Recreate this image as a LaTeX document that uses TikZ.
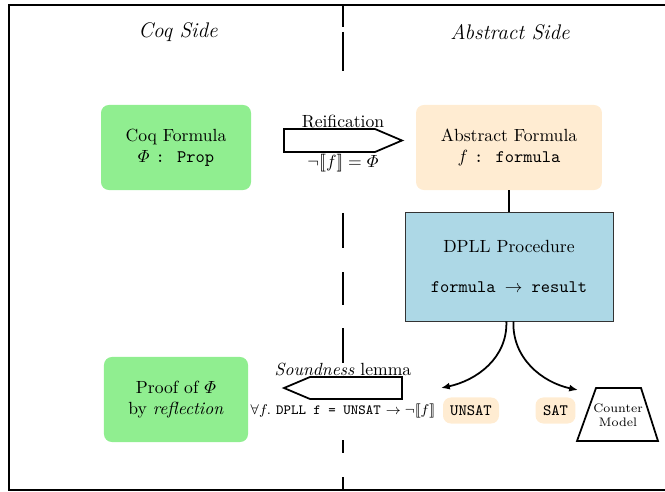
\documentclass[tikz,border=0pt]{standalone}
\usepackage{amsmath}
\usetikzlibrary{arrows.meta}
\definecolor{greenbox}{HTML}{90EE90}
\definecolor{orangebox}{HTML}{FFECD2}
\definecolor{bluebox}{HTML}{ADD8E6}
\newcommand{\semb}[1]{[\![#1]\!]}
\begin{document}
\begin{tikzpicture}[x=0.568pt,y=-0.568pt,
  rbox/.style={rounded corners=4.5pt, align=center, inner sep=0pt},
  gbox/.style={rbox, fill=greenbox},
  obox/.style={rbox, fill=orangebox},
  heavy/.style={line width=1pt},
  lab/.style={inner sep=1pt, align=center},
  tip/.style={-{Latex[length=5pt,width=4pt]}, line width=1pt}]
\useasboundingbox (0,0) rectangle (665,491);
% frame
\draw[heavy] (668,5) -- (9,5) -- (9,490) -- (668,490);
% dashed separator
\foreach \a/\b in {5/27,32/71,213/248,272/305,328/363,440/453,477/490}
  \draw[heavy] (343,\a) -- (343,\b);
% titles
\node[lab] (tcoq) at (178,32) {\large\itshape Coq Side};
\node[lab] (tabs) at (510,32) {\large\itshape Abstract Side};
% boxes
\node[gbox, minimum width=85.2pt, minimum height=48.3pt] (coq) at (176,147.5)
  {Coq Formula\\$\varPhi$ \texttt{: Prop}};
\node[obox, minimum width=105.6pt, minimum height=48.3pt] (abs) at (509,147.5)
  {Abstract Formula\\$f$ \texttt{: formula}};
\node[draw=black!80, line width=0.5pt, fill=bluebox, align=center, inner sep=0pt,
  minimum width=118.1pt, minimum height=61.9pt] (dpll) at (509,266.5)
  {DPLL Procedure\\[11pt]\texttt{formula $\rightarrow$ result}};
\node[gbox, minimum width=81.8pt, minimum height=48.3pt] (proof) at (176,399.5)
  {Proof of $\varPhi$\\by \textit{reflection}};
\node[obox, minimum width=31.8pt, minimum height=14.8pt] (unsat) at (471,410.5)
  {\small\texttt{UNSAT}};
\node[obox, minimum width=22.7pt, minimum height=14.8pt] (sat) at (555.5,410.5)
  {\small\texttt{SAT}};
% counter model trapezium
\draw[heavy, fill=white] (596,388) -- (641,388) -- (658,441) -- (577,441) -- cycle;
\node[lab, font=\scriptsize, align=center] (cm) at (618,415) {Counter\\Model};
% reification block arrow
\draw[heavy, fill=white] (284,129) -- (375,129) -- (402,140.5) -- (375,152) -- (284,152) -- cycle;
\node[lab, anchor=base] (reif) at (343,128) {Reification};
\node[lab] (reifeq) at (343,163) {$\neg\semb{f} = \varPhi$};
% soundness block arrow
\draw[heavy, fill=white] (402,377) -- (310,377) -- (284,388) -- (310,399) -- (402,399) -- cycle;
\node[lab, anchor=base] (sound) at (343,375) {\textit{Soundness} lemma};
\node[lab, font=\footnotesize] (soundeq) at (343,411)
  {$\forall f.$ \texttt{DPLL f = UNSAT} $\rightarrow \neg\semb{f}$};
% connectors
\draw[heavy] (abs.south) -- (dpll.north);
\coordinate (uend) at (441,388);
\coordinate (send) at (578,390);
\draw[tip] ([xshift=-1.5pt]dpll.south) to[out=-88, in=12] (uend);
\draw[tip] ([xshift=2.5pt]dpll.south) to[out=-92, in=168] (send);
\end{tikzpicture}
\end{document}
